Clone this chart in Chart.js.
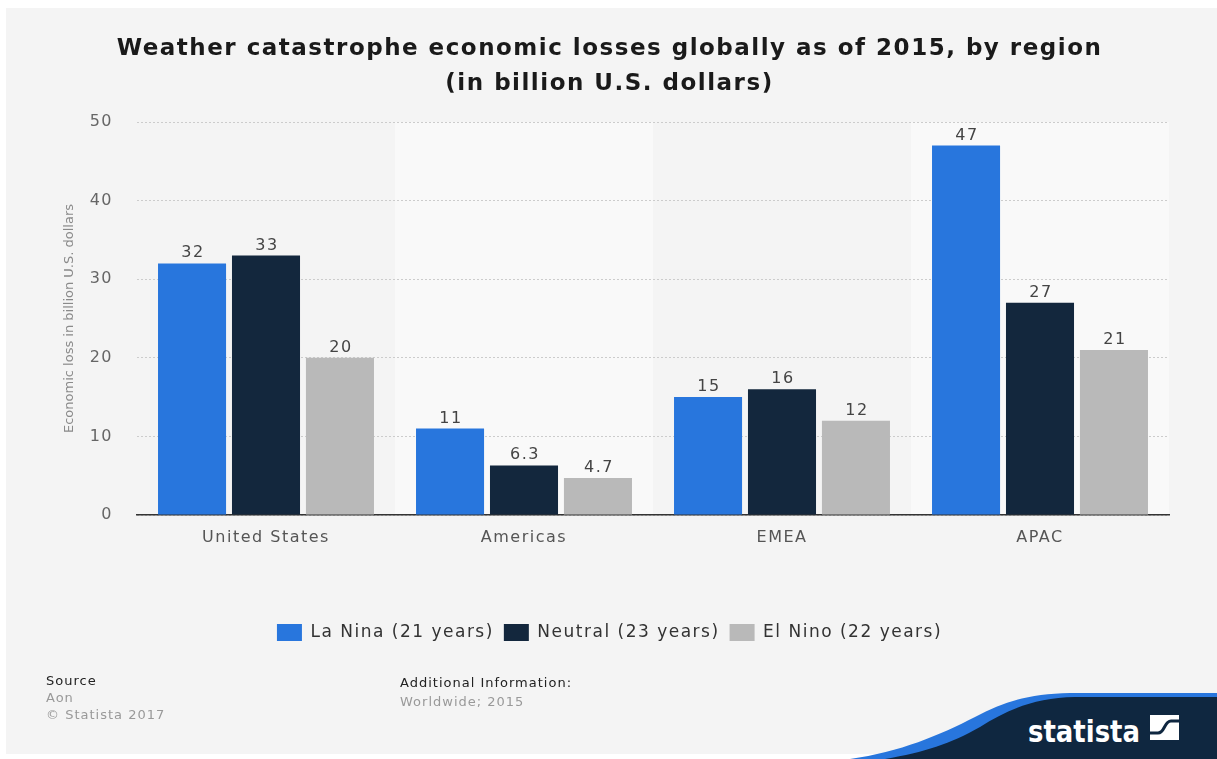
<!DOCTYPE html>
<html>
<head>
<meta charset="utf-8">
<script src="https://cdn.jsdelivr.net/npm/chart.js@4"></script>
<style>
    body { margin: 0; background: #fff; font-family: "DejaVu Sans", sans-serif; }
    #panel { position: absolute; left: 6px; top: 8px; width: 1211px; height: 746px; background: #f4f4f4; }
    #wrap { position: absolute; left: 0; top: 0; width: 1217px; height: 759px; }
    #logo { position: absolute; left: 0; top: 0; }
    .foot { position: absolute; font-size: 13px; letter-spacing: 1px; white-space: nowrap; }
    .dark { color: #222; }
    .light { color: #999; }
</style>
</head>
<body>
<div id="panel"></div>
<svg id="logo" width="1217" height="759">
    <path d="M 850 759 C 900 752, 940 735, 975 717 C 1005 701, 1030 694, 1070 693 L 1217 693 L 1217 759 Z" fill="#2876dd"/>
    <path d="M 885 759 C 925 752, 950 744, 980 727 C 1008 709, 1035 698, 1075 697 L 1217 697 L 1217 759 Z" fill="#0f2740"/>
    <text x="1028" y="742" fill="#fff" font-family="'DejaVu Sans'" font-weight="bold" font-size="30" textLength="112" lengthAdjust="spacingAndGlyphs">statista</text>
    <rect x="1150" y="715" width="29" height="25" fill="#fff"/>
    <path d="M 1149 733 L 1158 733 C 1165 733, 1164 721, 1171 721 L 1180 721" fill="none" stroke="#0f2740" stroke-width="3"/>
</svg>
<div id="wrap"><canvas id="chart" width="1217" height="759"></canvas></div>
<div class="foot dark" style="left:46px; top:673px;">Source</div>
<div class="foot light" style="left:46px; top:690px;">Aon</div>
<div class="foot light" style="left:46px; top:707px;">© Statista 2017</div>
<div class="foot dark" style="left:400px; top:675px;">Additional Information:</div>
<div class="foot light" style="left:400px; top:694px;">Worldwide; 2015</div>
<script>
const regions = ['United States', 'Americas', 'EMEA', 'APAC'];
const seriesNames = ['La Nina (21 years)', 'Neutral (23 years)', 'El Nino (22 years)'];
const laNina = [32, 11, 15, 47];
const neutral = [33, 6.3, 16, 27];
const elNino = [20, 4.7, 12, 21];
const yTicks = [0, 10, 20, 30, 40, 50];
const seriesColors = ['#2876dd', '#13273d', '#b9b9b9'];
const yTitle = 'Economic loss in billion U.S. dollars';

const ctx = document.getElementById('chart').getContext('2d');

// wider text like the statista renderer
const spacing = {
    id: 'spacing',
    beforeUpdate(chart) { chart.ctx.letterSpacing = '1.5px'; },
    beforeLayout(chart) { chart.ctx.letterSpacing = '1.5px'; },
    beforeDraw(chart) { chart.ctx.letterSpacing = '1.5px'; }
};

// alternating light bands behind every second category
const bandPlugin = {
    id: 'bands',
    beforeDraw(chart) {
        const x = chart.scales.x;
        const area = chart.chartArea;
        const step = (area.right - area.left) / regions.length;
        const c = chart.ctx;
        c.save();
        c.fillStyle = '#f9f9f9';
        regions.forEach((r, i) => {
            if (i % 2 === 1) {
                const mid = x.getPixelForValue(i);
                c.fillRect(mid - step / 2, area.top, step, area.bottom - area.top);
            }
        });
        c.restore();
    }
};

// value labels above bars + rotated y title (no extra spacing)
const valueLabels = {
    id: 'valueLabels',
    afterDatasetsDraw(chart) {
        const c = chart.ctx;
        c.save();
        c.letterSpacing = '1.5px';
        c.font = '16px "DejaVu Sans"';
        c.fillStyle = '#444';
        c.textAlign = 'center';
        c.textBaseline = 'alphabetic';
        chart.data.datasets.forEach((ds, di) => {
            chart.getDatasetMeta(di).data.forEach((bar, i) => {
                c.fillText(String(ds.data[i]), bar.x + 1, bar.y - 6);
            });
        });
        const area = chart.chartArea;
        c.letterSpacing = '0px';
        c.font = '13px "DejaVu Sans"';
        c.fillStyle = '#8a8a8a';
        c.textBaseline = 'middle';
        c.translate(70, (area.top + area.bottom) / 2);
        c.rotate(-Math.PI / 2);
        c.fillText(yTitle, 0, 0);
        c.restore();
    }
};

new Chart(ctx, {
    type: 'bar',
    data: {
        labels: regions,
        datasets: [
            { label: seriesNames[0], data: laNina, backgroundColor: seriesColors[0] },
            { label: seriesNames[1], data: neutral, backgroundColor: seriesColors[1] },
            { label: seriesNames[2], data: elNino, backgroundColor: seriesColors[2] }
        ]
    },
    options: {
        responsive: false,
        animation: false,
        categoryPercentage: 0.86,
        barPercentage: 0.92,
        layout: { padding: { left: 50, right: 48, top: 0, bottom: 108 } },
        plugins: {
            title: {
                display: true,
                text: ['Weather catastrophe economic losses globally as of 2015, by region', '(in billion U.S. dollars)'],
                color: '#1a1a1a',
                font: { family: 'DejaVu Sans', size: 23, weight: 'bold', lineHeight: 1.5 },
                padding: { top: 32, bottom: 21 }
            },
            legend: {
                position: 'bottom',
                labels: {
                    boxWidth: 25,
                    boxHeight: 17,
                    padding: 10,
                    color: '#333',
                    font: { family: 'DejaVu Sans', size: 17 }
                }
            },
            tooltip: { enabled: false }
        },
        scales: {
            x: {
                grid: { display: false, drawTicks: false },
                border: { display: true, color: '#333', width: 1.5 },
                ticks: { color: '#555', padding: 13, font: { family: 'DejaVu Sans', size: 16 } },
                afterFit(scale) { scale.height = 99; }
            },
            y: {
                min: 0,
                max: 50,
                afterBuildTicks(scale) { scale.ticks = yTicks.map(v => ({ value: v })); },
                grid: { color: '#cccccc', lineWidth: 1, drawTicks: false },
                border: { display: false, dash: [2, 2] },
                ticks: { color: '#666', padding: 24, font: { family: 'DejaVu Sans', size: 16 } },
                afterFit(scale) { scale.width = 87; }
            }
        }
    },
    plugins: [spacing, bandPlugin, valueLabels]
});
</script>
</body>
</html>
